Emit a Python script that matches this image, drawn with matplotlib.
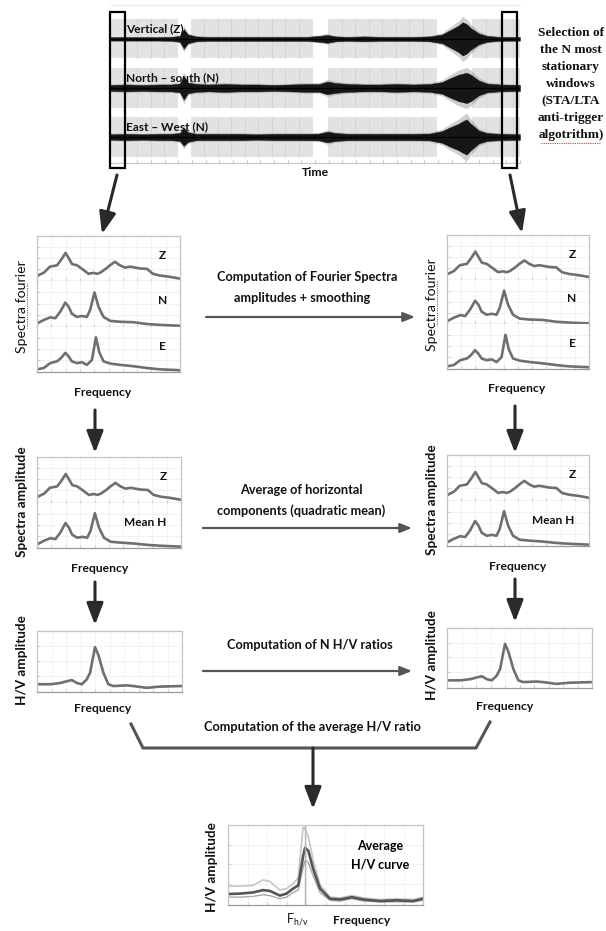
import numpy as np
import matplotlib
matplotlib.use("Agg")
import matplotlib.pyplot as plt
from matplotlib.patches import Rectangle

W, H = 606, 931
SANS = "Lato"
SERIF = "Liberation Serif"

# --- seismogram envelopes (half amplitude, in trace-spacing units) ---
TIME = [0.00, 0.04, 0.08, 0.12, 0.15, 0.17, 0.18, 0.19, 0.21, 0.24, 0.28, 0.32,
        0.36, 0.40, 0.44, 0.48, 0.51, 0.53, 0.55, 0.58, 0.62, 0.66, 0.70, 0.74,
        0.78, 0.81, 0.83, 0.85, 0.86, 0.87, 0.88, 0.90, 0.92, 0.95, 1.00]
ENV_Z = [0.035, 0.035, 0.035, 0.035, 0.04, 0.06, 0.20, 0.09, 0.05, 0.04, 0.04, 0.04,
         0.04, 0.04, 0.04, 0.04, 0.06, 0.08, 0.05, 0.04, 0.05, 0.04, 0.04, 0.04,
         0.05, 0.09, 0.18, 0.27, 0.34, 0.30, 0.22, 0.11, 0.06, 0.04, 0.035]
ENV_N = [0.06, 0.07, 0.06, 0.07, 0.07, 0.09, 0.24, 0.11, 0.08, 0.07, 0.08, 0.07,
         0.07, 0.06, 0.07, 0.08, 0.08, 0.13, 0.10, 0.08, 0.07, 0.07, 0.08, 0.07,
         0.08, 0.12, 0.20, 0.27, 0.29, 0.31, 0.27, 0.15, 0.09, 0.07, 0.06]
ENV_E = [0.055, 0.065, 0.055, 0.065, 0.065, 0.08, 0.18, 0.10, 0.065, 0.065, 0.065, 0.065,
         0.055, 0.065, 0.065, 0.065, 0.07, 0.11, 0.08, 0.065, 0.065, 0.065, 0.065, 0.065,
         0.07, 0.12, 0.20, 0.27, 0.32, 0.36, 0.27, 0.13, 0.08, 0.065, 0.055]
TRACE_NAMES = ["Vertical (Z)", "North \u2013 south (N)", "East \u2013 West (N)"]
TRACE_OFFSETS = [2, 1, 0]
STATIONARY_BLOCKS = [(0.0, 0.166), (0.197, 0.495), (0.532, 0.798), (0.883, 1.0)]

# --- spectra (frequency fraction, amplitude fraction) ---
F_Z = [0, 0.05, 0.09, 0.14, 0.17, 0.20, 0.22, 0.245, 0.28, 0.315, 0.36, 0.395,
       0.42, 0.445, 0.48, 0.51, 0.545, 0.58, 0.615, 0.65, 0.685, 0.72, 0.77,
       0.81, 0.86, 0.91, 0.95, 1.0]
A_Z = [0.10, 0.18, 0.31, 0.34, 0.47, 0.62, 0.51, 0.37, 0.34, 0.26, 0.15, 0.17,
       0.15, 0.18, 0.26, 0.34, 0.42, 0.34, 0.29, 0.31, 0.29, 0.27, 0.26,
       0.15, 0.11, 0.09, 0.07, 0.04]
F_N = [0, 0.047, 0.093, 0.128, 0.163, 0.198, 0.221, 0.244, 0.279, 0.314, 0.349,
       0.372, 0.402, 0.43, 0.465, 0.512, 0.581, 0.674, 0.767, 0.86, 1.0]
A_N = [0.05, 0.13, 0.19, 0.17, 0.32, 0.52, 0.43, 0.27, 0.20, 0.22, 0.20,
       0.36, 0.75, 0.43, 0.20, 0.11, 0.09, 0.08, 0.04, 0.02, 0.0]
F_E = [0, 0.047, 0.093, 0.14, 0.167, 0.198, 0.221, 0.244, 0.279, 0.314, 0.349,
       0.384, 0.412, 0.435, 0.465, 0.512, 0.581, 0.674, 0.767, 0.86, 1.0]
A_E = [0.04, 0.07, 0.18, 0.22, 0.29, 0.41, 0.33, 0.22, 0.18, 0.20, 0.14,
       0.25, 0.76, 0.43, 0.22, 0.17, 0.14, 0.11, 0.07, 0.04, 0.02]
A_MEANH = [0.06, 0.14, 0.20, 0.18, 0.33, 0.54, 0.44, 0.28, 0.21, 0.23, 0.21,
           0.37, 0.76, 0.44, 0.21, 0.12, 0.10, 0.08, 0.05, 0.03, 0.01]

# --- single H/V ratio ---
F_HV = [0, 0.092, 0.16, 0.206, 0.24, 0.275, 0.309, 0.343, 0.366, 0.40, 0.423,
        0.458, 0.492, 0.526, 0.618, 0.664, 0.755, 0.847, 1.0]
A_HV = [0.11, 0.11, 0.13, 0.16, 0.18, 0.13, 0.11, 0.19, 0.30, 0.73, 0.60,
        0.30, 0.11, 0.08, 0.09, 0.08, 0.05, 0.07, 0.08]

# --- average H/V curve with +/- band ---
F_AVG = [0, 0.06, 0.129, 0.18, 0.214, 0.266, 0.30, 0.334, 0.36, 0.385, 0.395,
         0.412, 0.437, 0.472, 0.523, 0.575, 0.635, 0.695, 0.78, 0.866, 0.95, 1.0]
A_AVG = [0.12, 0.125, 0.14, 0.17, 0.16, 0.10, 0.125, 0.19, 0.23, 0.60, 0.71,
         0.67, 0.44, 0.19, 0.06, 0.05, 0.08, 0.05, 0.03, 0.04, 0.03, 0.06]
A_UP = [0.22, 0.22, 0.23, 0.30, 0.28, 0.17, 0.19, 0.25, 0.33, 0.97, 0.95,
        0.85, 0.55, 0.24, 0.08, 0.07, 0.10, 0.07, 0.05, 0.06, 0.05, 0.08]
A_LOW = [0.08, 0.08, 0.09, 0.11, 0.10, 0.06, 0.08, 0.14, 0.17, 0.45, 0.55,
         0.52, 0.35, 0.14, 0.04, 0.03, 0.06, 0.03, 0.02, 0.02, 0.02, 0.04]
F_PEAK = 0.395

CURVE = "#6f6f6f"
FRAME = "#c4c4c4"
TXT = 9.2

fig = plt.figure(figsize=(W / 100, H / 100), dpi=100)
base = fig.add_axes([0, 0, 1, 1])
base.set_xlim(0, W)
base.set_ylim(H, 0)
base.axis("off")


def px_axes(x0, y0, x1, y1):
    return fig.add_axes([x0 / W, 1 - y1 / H, (x1 - x0) / W, (y1 - y0) / H])


def style_panel(ax, top=True):
    ax.set_xlim(0, 1)
    ax.set_ylim(-0.02, 1)
    ax.set_xticks(np.linspace(0, 1, 11))
    ax.set_yticks([0.25, 0.5, 0.75])
    ax.tick_params(direction="in", length=2, color="#d0d0d0",
                   labelbottom=False, labelleft=False)
    ax.grid(color="#f0f0f0", lw=0.6)
    for sp in ax.spines.values():
        sp.set_color(FRAME)
        sp.set_linewidth(0.9)
    ax.spines["bottom"].set_color("#9a9a9a")
    if not top:
        ax.spines["top"].set_visible(False)


def stack(x0, y0, x1, y1, curves, labels, label_xs):
    n = len(curves)
    h = (y1 - y0) / n
    for i, ((f, a), lab, lx) in enumerate(zip(curves, labels, label_xs)):
        ax = px_axes(x0, y0 + i * h, x1, y0 + (i + 1) * h)
        style_panel(ax, top=(i == 0))
        ax.plot(f, a, color=CURVE, lw=1.9, solid_capstyle="round")
        ax.text(lx, 0.57, lab, transform=ax.transAxes, ha="center",
                va="center", fontsize=8.6, fontweight="bold", family=SANS,
                color="#111111")


def label(x, y, s, size=TXT, weight="bold", rot=0, family=SANS, **kw):
    base.text(x, y, s, ha="center", va="center", fontsize=size,
              fontweight=weight, rotation=rot, family=family, color="#111111",
              **kw)


def big_arrow(p0, p1):
    base.annotate("", xy=p1, xytext=p0,
                  arrowprops=dict(arrowstyle="-|>,head_width=0.42,head_length=1.1",
                                  lw=2.2, color="#2a2a2a", mutation_scale=12,
                                  shrinkA=0, shrinkB=0))


def thin_arrow(x0, x1, y):
    base.annotate("", xy=(x1, y), xytext=(x0, y),
                  arrowprops=dict(arrowstyle="-|>,head_width=0.28,head_length=0.7",
                                  lw=1.6, color="#555555", mutation_scale=10,
                                  shrinkA=0, shrinkB=0))


# ---------------- seismograms ----------------
sx = px_axes(110, 5, 520, 163)
sx.set_xlim(0, 1)
sx.set_ylim(-0.53, 2.69)
for off in TRACE_OFFSETS:
    for b0, b1 in STATIONARY_BLOCKS:
        sx.add_patch(Rectangle((b0, off - 0.40), b1 - b0, 0.80,
                               color="#e2e2e2", lw=0, zorder=0))
        for xv in np.arange(b0 + 0.033, b1 - 0.01, 0.033):
            sx.plot([xv, xv], [off - 0.40, off + 0.40], color="#d2d2d2",
                    lw=0.6, zorder=0.5)
t = np.array(TIME)
for off, env, name in zip(TRACE_OFFSETS, [ENV_Z, ENV_N, ENV_E], TRACE_NAMES):
    env = np.array(env)
    sx.fill_between(t, off - 1.35 * env, off + 1.35 * env, color="#777777",
                    alpha=0.35, lw=0, zorder=1.5)
    sx.fill_between(t, off - env, off + env, color="#161616", lw=0.3, zorder=2)
    sx.plot(t, np.full_like(t, off), color="#000000", lw=0.9, zorder=3)
    sx.text(0.04, off + 0.21, name, fontsize=8.6, fontweight="bold",
            family=SANS, va="center", color="#111111", zorder=4)
sx.set_xticks(np.linspace(0, 1, 31))
sx.set_yticks([])
sx.tick_params(axis="x", direction="in", length=2, color="#c8c8c8",
               labelbottom=False)
for sp in sx.spines.values():
    sp.set_visible(False)
sx.spines["bottom"].set_visible(True)
sx.spines["bottom"].set_color("#c8c8c8")
sx.spines["top"].set_visible(True)
sx.spines["top"].set_color("#ececec")

label(315, 173, "Time", size=8.8)

sel_lines = ["Selection of", "the N most", "stationary", "windows",
             "(STA/LTA", "anti-trigger", "algotrithm)"]
for i, s in enumerate(sel_lines):
    label(571, 33 + i * 17, s, size=9.6, family=SERIF)
base.plot([541, 600], [143, 143], color="#d04040", lw=0.8, ls=(0, (1, 1)))

big_arrow((117, 175), (102, 234))
big_arrow((510, 175), (522, 233))

# ---------------- Fourier spectra ----------------
spec = [(F_Z, A_Z), (F_N, A_N), (F_E, A_E)]
stack(37, 236, 180, 372, spec, ["Z", "N", "E"], [0.88] * 3)
stack(447, 235, 589, 369, spec, ["Z", "N", "E"], [0.88] * 3)
label(22, 307, "Spectra fourier", size=10.2, weight="normal", rot=90)
label(432, 305, "Spectra fourier", size=10.2, weight="normal", rot=90)
base.plot([27, 27], [283, 328], color="#d04040", lw=0.8, ls=(0, (1, 1)))
base.plot([437, 437], [281, 326], color="#d04040", lw=0.8, ls=(0, (1, 1)))
label(103, 392, "Frequency", size=8.7)
label(517, 388, "Frequency", size=8.7)

label(307, 277, "Computation of Fourier Spectra")
label(302, 298, "amplitudes + smoothing")
thin_arrow(206, 415, 317)

big_arrow((95, 410), (95, 453))
big_arrow((515, 406), (515, 453))

# ---------------- Z / mean H ----------------
zh = [(F_Z, A_Z), (F_N, A_MEANH)]
stack(37, 457, 181, 548, zh, ["Z", "Mean H"], [0.88, 0.75])
stack(447, 455, 589, 546, zh, ["Z", "Mean H"], [0.88, 0.75])
label(22, 502, "Spectra amplitude", size=9.8, rot=90)
label(432, 500, "Spectra amplitude", size=9.8, rot=90)
label(100, 569, "Frequency", size=8.7)
label(518, 566, "Frequency", size=8.7)

label(301, 490, "Average of horizontal")
label(301, 511, "components (quadratic mean)")
thin_arrow(203, 412, 528)

big_arrow((95, 582), (95, 625))
big_arrow((515, 579), (515, 622))

# ---------------- H/V ratios ----------------
for box in [(37, 631, 182, 692), (447, 628, 592, 688)]:
    ax = px_axes(*box)
    style_panel(ax)
    ax.plot(F_HV, A_HV, color=CURVE, lw=1.9)
label(22, 660, "H/V amplitude", size=9.7, rot=90)
label(432, 655, "H/V amplitude", size=9.7, rot=90)
label(103, 709, "Frequency", size=8.7)
label(505, 707, "Frequency", size=8.7)

label(310, 645, "Computation of N H/V ratios")
thin_arrow(203, 412, 671)

# ---------------- average H/V ----------------
label(312, 727, "Computation of the average H/V ratio")
base.plot([131, 143, 476, 490], [724, 748, 748, 722], color="#555555", lw=2.2,
          solid_joinstyle="miter")
big_arrow((313, 748), (313, 809))

ax = px_axes(228, 825, 423, 905)
style_panel(ax)
ax.plot(F_AVG, A_UP, color="#c6c6c6", lw=1.2)
ax.plot(F_AVG, A_LOW, color="#a8a8a8", lw=1.0)
ax.plot(F_AVG, A_AVG, color="#555555", lw=1.9)
ax.axvline(F_PEAK, color="#b5b5b5", lw=1.0)
ax.text(0.78, 0.74, "Average", transform=ax.transAxes, ha="center",
        va="center", fontsize=9.0, fontweight="bold", family=SANS)
ax.text(0.78, 0.51, "H/V curve", transform=ax.transAxes, ha="center",
        va="center", fontsize=9.0, fontweight="bold", family=SANS)
label(212, 867, "H/V amplitude", size=9.7, rot=90)
label(297, 920, r"F$_\mathregular{h/v}$", size=9.0, weight="normal")
label(362, 920, "Frequency", size=8.7)

# selection windows drawn on top of everything
over = fig.add_axes([0, 0, 1, 1])
over.set_xlim(0, W)
over.set_ylim(H, 0)
over.axis("off")
for bx in (110, 502):
    over.add_patch(Rectangle((bx, 12), 15, 156, fill=False, ec="black", lw=1.6))

fig.savefig("out.png", dpi=100)
